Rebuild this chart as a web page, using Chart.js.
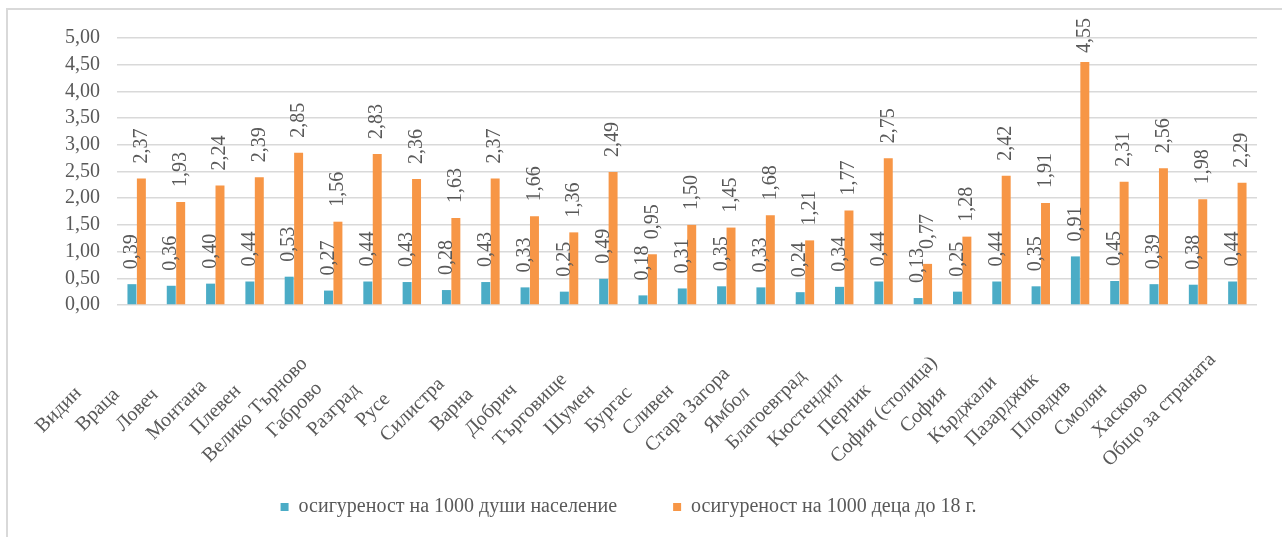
<!DOCTYPE html>
<html>
<head>
<meta charset="utf-8">
<script src="https://cdn.jsdelivr.net/npm/chart.js@4.4.0/dist/chart.umd.min.js"></script>
<style>
    html, body { margin: 0; padding: 0; background: #fff; }
    #wrap { position: relative; width: 1282px; height: 537px; }
</style>
</head>
<body>
<div id="wrap"><canvas id="chart"></canvas></div>
<script>
const regions = ['Видин', 'Враца', 'Ловеч', 'Монтана', 'Плевен', 'Велико Търново', 'Габрово', 'Разград',
    'Русе', 'Силистра', 'Варна', 'Добрич', 'Търговище', 'Шумен', 'Бургас', 'Сливен', 'Стара Загора',
    'Ямбол', 'Благоевград', 'Кюстендил', 'Перник', 'София (столица)', 'София', 'Кърджали', 'Пазарджик',
    'Пловдив', 'Смолян', 'Хасково', 'Общо за страната'];
const perPopulation = [0.39, 0.36, 0.40, 0.44, 0.53, 0.27, 0.44, 0.43, 0.28, 0.43, 0.33, 0.25, 0.49, 0.18,
    0.31, 0.35, 0.33, 0.24, 0.34, 0.44, 0.13, 0.25, 0.44, 0.35, 0.91, 0.45, 0.39, 0.38, 0.44];
const perChildren = [2.37, 1.93, 2.24, 2.39, 2.85, 1.56, 2.83, 2.36, 1.63, 2.37, 1.66, 1.36, 2.49, 0.95,
    1.50, 1.45, 1.68, 1.21, 1.77, 2.75, 0.77, 1.28, 2.42, 1.91, 4.55, 2.31, 2.56, 1.98, 2.29];
const seriesNames = ['осигуреност на 1000 души население', 'осигуреност на 1000 деца до 18 г.'];
const yMin = 0;
const yMax = 5;
const yStep = 0.5;

const textColor = '#595959';
const fontFamily = '"Liberation Serif", "Times New Roman", serif';
const fontSize = 20;

function fmt(v) {
    return Number(v).toFixed(2).replace('.', ',');
}

// light frame around the whole chart
const chartFrame = {
    id: 'chartFrame',
    beforeDraw(chart) {
        const ctx = chart.ctx;
        ctx.save();
        ctx.strokeStyle = '#d9d9d9';
        ctx.lineWidth = 2;
        ctx.strokeRect(7, 9, 1400, 600);
        ctx.restore();
    }
};

// vertical value labels above each bar
const valueLabels = {
    id: 'valueLabels',
    afterDatasetsDraw(chart) {
        const ctx = chart.ctx;
        ctx.save();
        ctx.font = fontSize + 'px ' + fontFamily;
        ctx.fillStyle = textColor;
        ctx.textAlign = 'left';
        ctx.textBaseline = 'middle';
        chart.data.datasets.forEach(function(ds, di) {
            chart.getDatasetMeta(di).data.forEach(function(bar, i) {
                const text = fmt(ds.data[i]);
                const w = ctx.measureText(text).width;
                let start = bar.y - 15;
                if (start - w < 18) start = 18 + w;
                ctx.save();
                ctx.translate(bar.x, start);
                ctx.rotate(-Math.PI / 2);
                ctx.fillText(text, 0, 0);
                ctx.restore();
            });
        });
        ctx.restore();
    }
};

// slanted category names, centred left of each category like the original
const categoryLabels = {
    id: 'categoryLabels',
    afterDraw(chart) {
        const ctx = chart.ctx;
        const xScale = chart.scales.x;
        ctx.save();
        ctx.font = fontSize + 'px ' + fontFamily;
        ctx.fillStyle = textColor;
        ctx.textAlign = 'center';
        ctx.textBaseline = 'middle';
        chart.data.labels.forEach(function(name, i) {
            const x = xScale.getPixelForValue(i) - 78;
            ctx.save();
            ctx.translate(x, 410);
            ctx.rotate(-Math.PI / 4);
            ctx.fillText(name, 0, 0);
            ctx.restore();
        });
        ctx.restore();
    }
};

new Chart(document.getElementById('chart'), {
    type: 'bar',
    data: {
        labels: regions,
        datasets: [
            {
                label: seriesNames[0],
                data: perPopulation,
                backgroundColor: '#4bacc6',
                categoryPercentage: 0.48,
                barPercentage: 0.95
            },
            {
                label: seriesNames[1],
                data: perChildren,
                backgroundColor: '#f79646',
                categoryPercentage: 0.48,
                barPercentage: 0.95
            }
        ]
    },
    options: {
        responsive: true,
        maintainAspectRatio: false,
        animation: false,
        layout: { padding: { top: 38, right: 25, bottom: 16, left: 0 } },
        plugins: {
            legend: {
                position: 'bottom',
                maxHeight: 80,
                labels: {
                    boxWidth: 8,
                    boxHeight: 8,
                    padding: 56,
                    color: textColor,
                    font: { family: fontFamily, size: fontSize }
                }
            },
            tooltip: { enabled: false }
        },
        scales: {
            x: {
                ticks: { display: false },
                grid: { display: false },
                border: { display: false },
                afterFit: function(scale) { scale.height = 136; }
            },
            y: {
                min: yMin,
                max: yMax,
                ticks: {
                    stepSize: yStep,
                    autoSkip: false,
                    padding: 17,
                    color: textColor,
                    font: { family: fontFamily, size: fontSize },
                    callback: function(v) { return fmt(v); }
                },
                grid: { color: '#d9d9d9', lineWidth: 1.5, drawTicks: false },
                border: { display: false },
                afterFit: function(scale) { scale.width = 117; }
            }
        }
    },
    plugins: [chartFrame, valueLabels, categoryLabels]
});
</script>
</body>
</html>
